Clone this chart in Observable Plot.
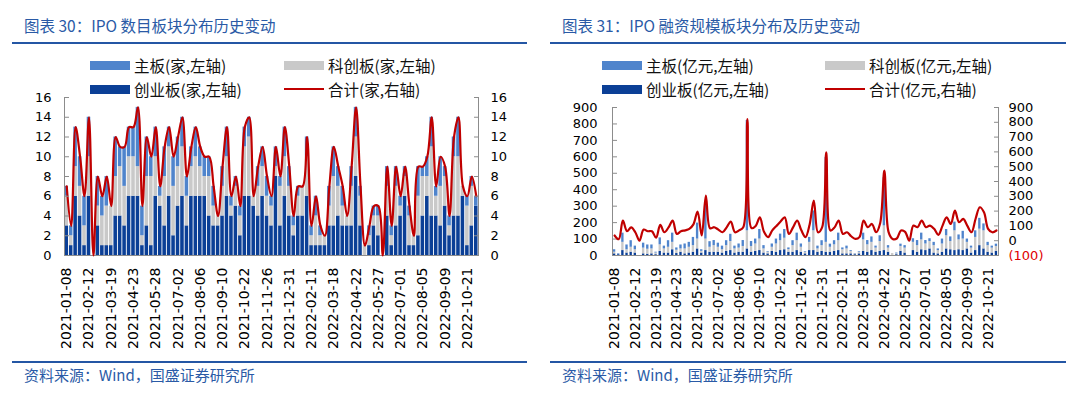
<!DOCTYPE html>
<html><head><meta charset="utf-8">
<script src="https://cdn.jsdelivr.net/npm/d3@7"></script>
<script src="https://cdn.jsdelivr.net/npm/@observablehq/plot@0.6"></script>
<style>
body{margin:0;background:#fff;width:1080px;height:399px;position:relative;overflow:hidden;font-family:"Noto Sans CJK SC",sans-serif;}
.abs{position:absolute;}
.title{color:#2a5aa6;font-size:15.5px;line-height:20px;white-space:nowrap;}
.rule{height:2px;background:#2456a4;}
.leg{font-size:15.5px;line-height:20px;color:#111;white-space:nowrap;display:flex;align-items:center;height:20px;}
.sw{width:40px;height:9px;margin-right:4px;}
.ln{width:40px;height:2px;margin-right:4px;background:#C00000;}
.foot{color:#2a5aa6;font-size:15px;line-height:20px;white-space:nowrap;}
</style></head><body>
<div class="abs title" style="left:24px;top:15px;">图表 30：IPO 数目板块分布历史变动</div>
<div class="abs rule" style="left:12px;width:515px;top:42px;"></div>
<div class="abs title" style="left:562px;top:15px;">图表 31：IPO 融资规模板块分布及历史变动</div>
<div class="abs rule" style="left:550px;width:516px;top:42px;"></div>

<div class="abs leg" style="left:90px;top:55px;"><span class="sw" style="background:#4F84CC"></span>主板(家,左轴)</div>
<div class="abs leg" style="left:284px;top:55px;"><span class="sw" style="background:#C9C9C9"></span>科创板(家,左轴)</div>
<div class="abs leg" style="left:90px;top:79px;"><span class="sw" style="background:#0B3F96"></span>创业板(家,左轴)</div>
<div class="abs leg" style="left:284px;top:79px;"><span class="ln"></span>合计(家,右轴)</div>

<div class="abs leg" style="left:602px;top:55px;"><span class="sw" style="background:#4F84CC"></span>主板(亿元,左轴)</div>
<div class="abs leg" style="left:825px;top:55px;"><span class="sw" style="background:#C9C9C9"></span>科创板(亿元,左轴)</div>
<div class="abs leg" style="left:602px;top:79px;"><span class="sw" style="background:#0B3F96"></span>创业板(亿元,左轴)</div>
<div class="abs leg" style="left:825px;top:79px;"><span class="ln"></span>合计(亿元,右轴)</div>

<div id="c1" class="abs" style="left:0;top:90px;"></div>
<div id="c2" class="abs" style="left:540px;top:90px;"></div>
<div id="c3" class="abs" style="left:540px;top:90px;"></div>

<div class="abs rule" style="left:12px;width:515px;top:361px;"></div>
<div class="abs rule" style="left:550px;width:516px;top:361px;"></div>
<div class="abs foot" style="left:24px;top:365px;">资料来源：Wind，国盛证券研究所</div>
<div class="abs foot" style="left:562px;top:365px;">资料来源：Wind，国盛证券研究所</div>

<script>
const dates = ["2021-01-08","2021-01-15","2021-01-22","2021-01-29","2021-02-05","2021-02-12","2021-02-19","2021-02-26","2021-03-05","2021-03-12",
"2021-03-19","2021-03-26","2021-04-02","2021-04-09","2021-04-16","2021-04-23","2021-04-30","2021-05-07","2021-05-14","2021-05-21",
"2021-05-28","2021-06-04","2021-06-11","2021-06-18","2021-06-25","2021-07-02","2021-07-09","2021-07-16","2021-07-23","2021-07-30",
"2021-08-06","2021-08-13","2021-08-20","2021-08-27","2021-09-03","2021-09-10","2021-09-17","2021-09-24","2021-10-08","2021-10-15",
"2021-10-22","2021-10-29","2021-11-05","2021-11-12","2021-11-19","2021-11-26","2021-12-03","2021-12-10","2021-12-17","2021-12-24",
"2021-12-31","2022-01-07","2022-01-14","2022-01-21","2022-01-28","2022-02-11","2022-02-18","2022-02-25","2022-03-04","2022-03-11",
"2022-03-18","2022-03-25","2022-04-01","2022-04-08","2022-04-15","2022-04-22","2022-04-29","2022-05-06","2022-05-13","2022-05-20",
"2022-05-27","2022-06-03","2022-06-10","2022-06-17","2022-06-24","2022-07-01","2022-07-08","2022-07-15","2022-07-22","2022-07-29",
"2022-08-05","2022-08-12","2022-08-19","2022-08-26","2022-09-02","2022-09-09","2022-09-16","2022-09-23","2022-09-30","2022-10-14",
"2022-10-21","2022-10-28","2022-11-04"];

const tickLabels = ["2021-01-08","2021-02-12","2021-03-19","2021-04-23","2021-05-28","2021-07-02","2021-08-06","2021-09-10","2021-10-22","2021-11-26",
"2021-12-31","2022-02-11","2022-03-18","2022-04-22","2022-05-27","2022-07-01","2022-08-05","2022-09-09","2022-10-21"];

// IPO counts (家)
const cntChiNext = [3,1,6,4,1,6,0,3,1,1, 1,4,4,3,6,6,6,1,3,1, 6,5,3,6,2,5,6,3,6,6, 6,6,4,3,3,4,6,4,5,2,
  6,6,5,4,6,4,3,8,3,6, 4,2,4,4,6,1,1,1,1,3, 3,4,3,3,3,8,3,0,1,3, 2,0,4,1,3,4,6,1,1,2, 4,6,4,4,3,5,2,4,4,6, 1,3,5];
const cntStar = [3,1,3,3,2,4,0,2,3,4, 4,4,5,4,4,4,3,1,5,7, 4,1,5,5,5,4,5,3,3,4, 3,2,4,2,1,3,4,1,2,2,
  5,6,1,3,3,2,2,1,4,4, 3,1,2,3,4,1,3,1,1,2, 5,3,2,1,4,4,3,1,1,1, 2,0,3,1,4,1,2,3,1,4, 4,2,7,2,4,3,1,6,6,1, 4,4,0];
const cntMain = [1,1,4,3,3,4,0,3,2,3, 0,4,2,4,3,3,6,3,4,2, 3,1,3,2,3,3,3,2,2,3, 2,2,2,2,0,2,3,1,1,1,
  2,2,0,2,2,2,1,2,1,3, 2,1,1,0,2,1,2,1,0,2, 3,2,2,0,2,3,1,0,1,1, 1,0,2,1,2,1,1,1,0,3, 1,2,3,1,3,1,1,2,4,0, 1,1,1];

// IPO proceeds (亿元)
const amtChiNext = [10,5,30,15,20,15,0,10,8,10, 5,25,15,15,35,12,20,10,15,20, 40,15,30,20,20,20,15,25,30,15,
  20,20,40,20,25,30,15,10,25,20, 30,35,20,20,30,20,10,30,30,20, 25,20,20,25,30,10,10,10,5,10,
  25,20,30,20,25,30,20,0,5,25, 15,0,30,20,35,30,40,15,10,20, 40,35,30,35,30,40,15,30,60,40, 20,15,25];
const amtStar = [10,0,50,20,30,20,0,35,30,30, 10,40,25,35,45,20,20,30,35,40, 60,10,70,30,40,30,20,35,55,25,
  25,35,110,35,45,70,25,10,25,50, 60,70,16,40,60,30,10,50,120,20, 35,60,30,40,60,25,30,15,5,10,
  70,45,50,25,60,150,25,12,5,30, 30,0,50,40,60,40,45,45,20,50, 80,50,120,60,70,40,30,80,100,110, 40,30,30];
const amtMain = [15,5,56,29,40,22,0,30,26,24, 5,42,17,40,56,14,24,30,30,50, 97,10,204,34,31,25,22,30,44,17,
  25,36,671,30,30,58,20,4,20,30, 40,53,10,30,46,20,4,30,121,17, 30,517,19,25,46,11,17,5,2,4,
  41,26,33,12,35,293,15,0,5,14, 15,0,22,31,41,21,17,20,10,30, 38,28,53,30,47,20,12,40,66,42, 20,12,14];

const seriesNames = ["创业板","科创板","主板"];
const seriesColors = ["#0B3F96","#C9C9C9","#4F84CC"];
const cntTicks = [0,2,4,6,8,10,12,14,16];
const amtTicks = [0,100,200,300,400,500,600,700,800,900];
const amtLineTicks = [-100,0,100,200,300,400,500,600,700,800,900];

const N = dates.length;
const idx = d3.range(N);
const tickIdx = tickLabels.map(t => dates.indexOf(t));
const axisGrey = "#8c8c8c";

function rows(a, b, c) {
  const out = [];
  idx.forEach(i => {
    out.push({i, s: seriesNames[0], v: a[i]});
    out.push({i, s: seriesNames[1], v: b[i]});
    out.push({i, s: seriesNames[2], v: c[i]});
  });
  return out;
}
const cntTotal = idx.map(i => cntChiNext[i] + cntStar[i] + cntMain[i]);
const amtTotal = idx.map(i => amtChiNext[i] + amtStar[i] + amtMain[i]);

const baseStyle = {fontFamily: "DejaVu Sans", fontSize: "13px", color: "#000", background: "transparent", overflow: "visible"};
const yAx = (ticks, o) => Plot.axisY(ticks, {label: null, ...o});
const xAx = () => Plot.axisX(tickIdx, {label: null, tickSize: 0, tickPadding: 12, tickRotate: -90, tickFormat: i => dates[i], fontSize: 14, fill: "#000"});

// Left chart
const c1 = Plot.plot({
  width: 540, height: 260, marginLeft: 64, marginRight: 62, marginTop: 7, marginBottom: 95,
  style: baseStyle,
  x: {type: "linear", domain: [-0.5, N - 0.5], axis: null},
  y: {domain: [0, 16], axis: null},
  color: {domain: seriesNames, range: seriesColors},
  marks: [
    Plot.rectY(rows(cntChiNext, cntStar, cntMain), {x1: d => d.i - 0.5, x2: d => d.i + 0.5, y: "v", fill: "s", insetLeft: 0.45, insetRight: 0.45}),
    Plot.ruleY([0], {stroke: axisGrey}),
    Plot.ruleX([-0.5, N - 0.5], {stroke: axisGrey}),
    Plot.line(idx, {x: i => i, y: i => cntTotal[i], stroke: "#C00000", strokeWidth: 2.2, curve: "catmull-rom"}),
    yAx(cntTicks, {anchor: "left", tickSize: 0, tickPadding: 13, fill: "#000"}),
    yAx(cntTicks, {anchor: "left", tickSize: 5, dx: 5, stroke: axisGrey, tickFormat: () => ""}),
    yAx(cntTicks, {anchor: "right", tickSize: 0, tickPadding: 12, fill: "#000"}),
    yAx(cntTicks, {anchor: "right", tickSize: 5, dx: -5, stroke: axisGrey, tickFormat: () => ""}),
    xAx()
  ]
});
document.getElementById("c1").append(c1);

// Right chart: bars on left axis
const c2 = Plot.plot({
  width: 540, height: 260, marginLeft: 72, marginRight: 82, marginTop: 17, marginBottom: 95,
  style: baseStyle,
  x: {type: "linear", domain: [-0.5, N - 0.5], axis: null},
  y: {domain: [0, 900], axis: null},
  color: {domain: seriesNames, range: seriesColors},
  marks: [
    Plot.rectY(rows(amtChiNext, amtStar, amtMain), {x1: d => d.i - 0.5, x2: d => d.i + 0.5, y: "v", fill: "s", insetLeft: 0.9, insetRight: 0.9}),
    Plot.ruleY([0], {stroke: axisGrey}),
    Plot.ruleX([-0.5, N - 0.5], {stroke: axisGrey}),
    yAx(amtTicks, {anchor: "left", tickSize: 0, tickPadding: 15, fill: "#000"}),
    yAx(amtTicks, {anchor: "left", tickSize: 5, dx: 5, stroke: axisGrey, tickFormat: () => ""}),
    xAx()
  ]
});
document.getElementById("c2").append(c2);

// Right chart: total line on right axis (-100..900)
const c3 = Plot.plot({
  width: 540, height: 260, marginLeft: 72, marginRight: 82, marginTop: 17, marginBottom: 95,
  style: baseStyle,
  x: {type: "linear", domain: [-0.5, N - 0.5], axis: null},
  y: {domain: [-100, 900], axis: null},
  marks: [
    Plot.line(idx, {x: i => i, y: i => amtTotal[i], stroke: "#C00000", strokeWidth: 2.2, curve: "catmull-rom"}),
    yAx(amtLineTicks.filter(d => d >= 0), {anchor: "right", tickSize: 0, tickPadding: 10, fill: "#000"}),
    yAx(amtLineTicks.filter(d => d < 0), {anchor: "right", tickSize: 0, tickPadding: 10, fill: "#E00000", tickFormat: d => `(${-d})`}),
    yAx(amtLineTicks, {anchor: "right", tickSize: 5, dx: -5, stroke: axisGrey, tickFormat: () => ""})
  ]
});
document.getElementById("c3").append(c3);
</script>
</body></html>
